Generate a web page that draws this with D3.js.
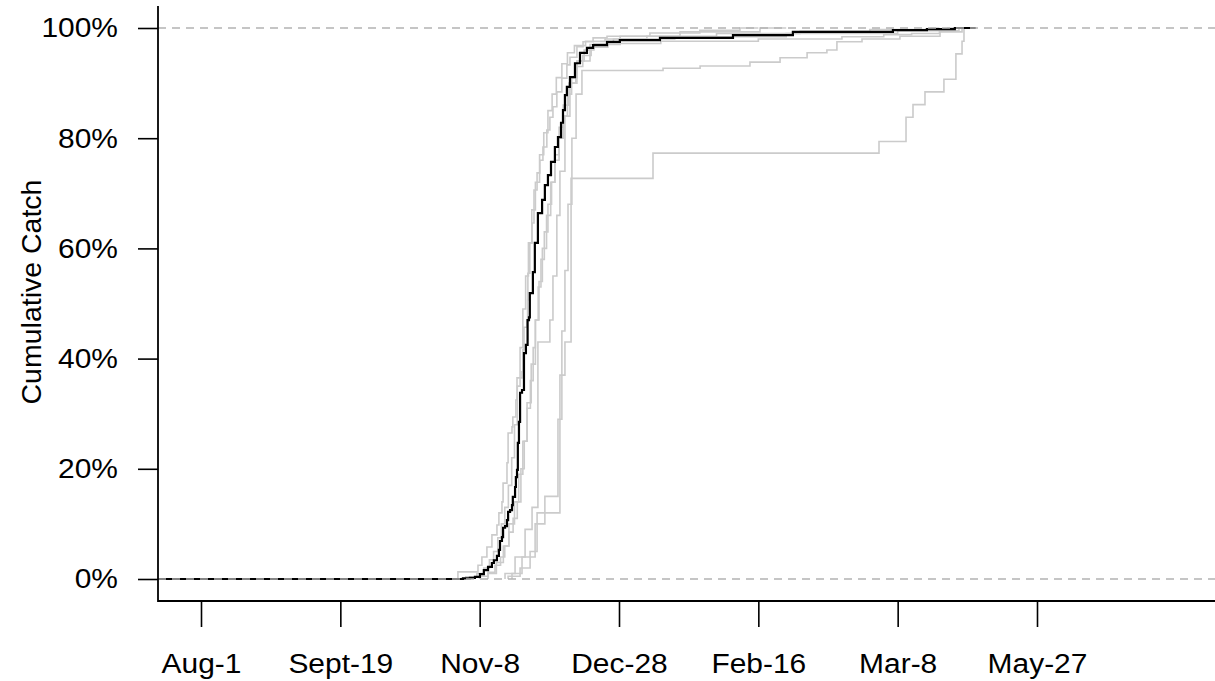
<!DOCTYPE html>
<html>
<head>
<meta charset="utf-8">
<script src="https://cdn.jsdelivr.net/npm/d3@7"></script>
<style>
  html, body { margin: 0; padding: 0; background: #fff; }
  svg { display: block; }
  text { font-family: "Liberation Sans", Arial, sans-serif; fill: #000; }
</style>
</head>
<body>
<svg id="chart" width="1215" height="681"></svg>
<script>
// ---- data (x = days since Aug-1, y = cumulative proportion) ----
const xTickDays   = [0, 50, 100, 150, 200, 250, 300];
const xTickLabels = ["Aug-1", "Sept-19", "Nov-8", "Dec-28", "Feb-16", "Mar-8", "May-27"];
const yTickValues = [0, 0.2, 0.4, 0.6, 0.8, 1.0];
const yLabel = "Cumulative Catch";

// mean cumulative catch (black)
const meanSeries = [
  [-15.5,0],[94.0,0.001],[96.5,0.002],[98.3,0.004],[100.1,0.009],[101.5,0.016],[103.0,0.022],
  [104.4,0.029],[105.1,0.034],[106.2,0.042],[106.9,0.053],[107.3,0.069],[108.0,0.076],[108.4,0.093],
  [109.1,0.096],[109.8,0.107],[110.2,0.122],[110.9,0.125],[111.6,0.134],[111.9,0.149],[112.7,0.167],
  [113.0,0.185],[113.4,0.198],[113.7,0.247],[114.1,0.285],[114.5,0.338],[115.2,0.343],[115.9,0.410],
  [116.6,0.425],[117.2,0.470],[117.7,0.475],[118.0,0.519],[119.1,0.557],[119.8,0.610],[120.9,0.664],
  [122.4,0.688],[123.4,0.715],[124.5,0.733],[125.6,0.757],[127.0,0.784],[128.1,0.802],[129.2,0.828],
  [129.9,0.851],[130.6,0.878],[131.3,0.893],[132.4,0.911],[134.2,0.936],[136.0,0.955],[138.5,0.964],
  [140.7,0.969],[145.7,0.975],[150.3,0.978],[164.7,0.982],[190.9,0.987],[212.4,0.993],[248.3,0.996],
  [260.5,0.998],[270.5,1.0],[278,1.0]
];

// individual years (grey)
const yearA = [
  [110.2,0],[110.2,0.005],[114.5,0.02],[118.1,0.05],[120.6,0.12],[128.8,0.37],[130.6,0.43],[132.8,0.727],
  [162.2,0.773],[243.3,0.794],[253.0,0.838],[255.5,0.861],[259.8,0.884],[266.6,0.907],[270.9,0.953],
  [273.1,0.976],[273.8,1.0],[275,1.0]
];
const yearB = [
  [111.6,0],[111.6,0.01],[115.2,0.04],[119.9,0.10],[123.4,0.15],[128.1,0.29],[129.5,0.45],[130.6,0.56],
  [131.7,0.68],[133.1,0.80],[134.6,0.88],[136.7,0.923],[165.8,0.927],[179.1,0.931],[197.0,0.938],
  [207.8,0.946],[217.5,0.955],[224.6,0.960],[228.2,0.975],[237.2,0.980],[250.8,0.985],[265.2,0.993],
  [273.1,1.0],[275,1.0]
];
const yearC = [
  [109.1,0],[109.1,0.01],[112.7,0.04],[116.3,0.09],[118.8,0.13],[120.9,0.43],[125.2,0.47],[126.3,0.55],
  [127.7,0.66],[128.8,0.74],[130.6,0.84],[132.4,0.90],[134.9,0.94],[139.6,0.97],[150.4,0.985],
  [171.9,0.993],[200.6,1.0],[210,1.0]
];
const yearD = [
  [92.2,0],[92.2,0.013],[99.4,0.025],[100.8,0.040],[102.6,0.058],[104.4,0.080],[106.2,0.098],[106.9,0.120],
  [108.0,0.140],[108.4,0.174],[109.8,0.211],[110.2,0.265],[111.6,0.276],[111.9,0.294],[113.0,0.325],
  [113.4,0.365],[115.2,0.376],[115.5,0.416],[115.9,0.457],[117.0,0.470],[117.2,0.506],[117.3,0.555],
  [118.0,0.610],[118.8,0.646],[119.5,0.706],[120.6,0.737],[121.6,0.760],[122.7,0.784],[124.1,0.815],
  [125.2,0.838],[126.3,0.857],[127.7,0.884],[129.5,0.909],[131.3,0.933],[132.4,0.947],[134.9,0.966],
  [137.1,0.975],[140.7,0.982],[145.7,0.985],[161.1,0.991],[179.0,0.996],[193.4,1.0],[200,1.0]
];
const yearE = [
  [100,0],[100,0.005],[103,0.012],[105.5,0.025],[107.5,0.04],[109,0.06],[110.5,0.085],[112,0.11],
  [113.5,0.14],[114.8,0.2],[116,0.25],[117,0.31],[118.2,0.36],[119.2,0.42],[120,0.47],[121,0.53],
  [122,0.58],[123.2,0.63],[124.5,0.68],[125.8,0.72],[127,0.76],[128.5,0.8],[130,0.84],[131.5,0.88],
  [133,0.91],[135,0.94],[137.5,0.96],[141,0.972],[148,0.98],[160,0.985],[185,0.99],[215,0.994],
  [240,0.997],[262,1.0],[265,1.0]
];
const yearF = [
  [95,0],[95,0.004],[99,0.01],[101.5,0.02],[103.5,0.035],[105,0.05],[106.5,0.075],[107.8,0.1],[109,0.13],
  [110.3,0.17],[111.5,0.22],[112.5,0.28],[113.5,0.35],[114.5,0.42],[115.5,0.49],[116.5,0.55],[117.5,0.61],
  [118.7,0.67],[120,0.72],[121.5,0.77],[123,0.81],[124.5,0.85],[126,0.88],[127.5,0.91],[129.5,0.935],
  [131.5,0.955],[134,0.968],[138,0.976],[145,0.98],[170,0.984],[210,0.99],[250,0.995],[268,1.0],[270,1.0]
];
const yearG = [
  [103,0],[103,0.01],[106,0.03],[108.5,0.06],[110.5,0.1],[112.5,0.14],[114,0.19],[115.5,0.25],[117,0.32],
  [118.5,0.39],[120,0.47],[121.3,0.54],[122.5,0.6],[124,0.66],[125.5,0.72],[127,0.77],[128.5,0.82],
  [130,0.86],[132,0.9],[134.5,0.93],[137,0.95],[140,0.965],[146,0.972],[165,0.976],[200,0.98],
  [230,0.984],[245,0.988],[255,0.99],[265,0.995],[272,1.0],[274,1.0]
];
const yearSeries = [yearA, yearB, yearC, yearD, yearE, yearF, yearG];
const refLevels = [0, 1];

// ---- layout ----
const svg = d3.select("#chart");
const plotLeft = 158, plotRight = 1215, plotTop = 6, plotBottom = 601;
const stretch = 1.07;

const x = d3.scaleLinear().domain([0, 300]).range([201, 1037]);
const y = d3.scaleLinear().domain([0, 1]).range([579, 28]);

svg.append("defs").append("clipPath").attr("id", "clip")
  .append("rect").attr("x", plotLeft).attr("y", plotTop)
  .attr("width", plotRight - plotLeft).attr("height", plotBottom - plotTop);

const plot = svg.append("g").attr("clip-path", "url(#clip)");
const line = d3.line().x(d => x(d[0])).y(d => y(d[1])).curve(d3.curveStepAfter);

plot.selectAll("path.year").data(yearSeries).join("path")
  .attr("class", "year")
  .attr("d", line)
  .attr("fill", "none")
  .attr("stroke", "#cbcbcb")
  .attr("stroke-width", 1.6);

plot.append("path").datum(meanSeries)
  .attr("d", line)
  .attr("fill", "none")
  .attr("stroke", "#000")
  .attr("stroke-width", 2.2);

plot.selectAll("line.ref").data(refLevels).join("line")
  .attr("class", "ref")
  .attr("x1", plotLeft).attr("x2", plotRight)
  .attr("y1", d => y(d)).attr("y2", d => y(d))
  .attr("stroke", "#b3b3b3")
  .attr("stroke-width", 1.6)
  .attr("stroke-dasharray", "8,6");

// ---- axes ----
const yAxis = d3.axisLeft(y).tickValues(yTickValues)
  .tickFormat(d3.format(".0%")).tickSize(20).tickPadding(20);
const gy = svg.append("g").attr("transform", `translate(${plotLeft},0)`).call(yAxis);
gy.select(".domain").remove();
gy.selectAll(".tick line").attr("stroke", "#000").attr("stroke-width", 1.6);
gy.selectAll(".tick text").attr("font-size", 28)
  .attr("font-family", "Liberation Sans, Arial, sans-serif")
  .attr("transform", `translate(-40,0) scale(${stretch},1) translate(40,0)`);

const xAxis = d3.axisBottom(x).tickValues(xTickDays)
  .tickFormat((d, i) => xTickLabels[i]).tickSize(26).tickPadding(26);
const gx = svg.append("g").attr("transform", `translate(0,${plotBottom})`).call(xAxis);
gx.select(".domain").remove();
gx.selectAll(".tick line").attr("stroke", "#000").attr("stroke-width", 1.6);
gx.selectAll(".tick text").attr("font-size", 28)
  .attr("font-family", "Liberation Sans, Arial, sans-serif")
  .attr("transform", `scale(${stretch},1)`);

svg.append("line").attr("x1", plotLeft).attr("x2", plotLeft)
  .attr("y1", plotTop).attr("y2", plotBottom + 1)
  .attr("stroke", "#000").attr("stroke-width", 1.8);
svg.append("line").attr("x1", plotLeft).attr("x2", plotRight)
  .attr("y1", plotBottom).attr("y2", plotBottom)
  .attr("stroke", "#000").attr("stroke-width", 1.8);

svg.append("text")
  .attr("transform", `translate(41,292) rotate(-90)`)
  .attr("text-anchor", "middle")
  .attr("font-size", 28.5)
  .text(yLabel);
</script>
</body>
</html>
